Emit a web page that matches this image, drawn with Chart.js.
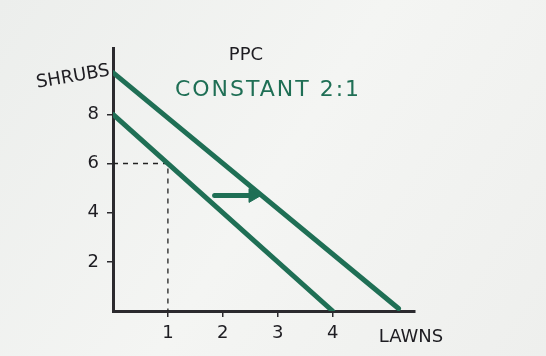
<!DOCTYPE html>
<html>
<head>
<meta charset="utf-8">
<script src="https://cdn.jsdelivr.net/npm/chart.js@4/dist/chart.umd.min.js"></script>
<style>
html,body{margin:0;padding:0;background:#f1f2f0;}
#wrap{width:546px;height:356px;position:relative;}
</style>
</head>
<body>
<div id="wrap"><canvas id="c" width="546" height="356"></canvas></div>
<script>
// Data
const lawnTicks = [1, 2, 3, 4];
const shrubTicks = [2, 4, 6, 8];
const ppcOriginalX = [0, 4];
const ppcOriginalY = [8, 0];
const ppcShiftedX = [0, 5.2];
const ppcShiftedY = [9.7, 0.1];
const guideX = [0, 1, 1];
const guideY = [6, 6, 0];
const arrowX = [1.85, 2.55];
const arrowY = [4.7, 4.7];
const titleText = "PPC";
const subtitleText = "CONSTANT 2:1";
const xAxisTitle = "LAWNS";
const yAxisTitle = "SHRUBS";

const GREEN = "#1f6f55";
const INK = "#2b2a2e";

function pts(xs, ys){ return xs.map((x,i)=>({x:x, y:ys[i]})); }

const bgPlugin = {
  id: "bg",
  beforeDraw(chart){
    const ctx = chart.ctx;
    const g = ctx.createLinearGradient(0,0,546,356);
    g.addColorStop(0,"#eceeec");
    g.addColorStop(0.5,"#f4f5f3");
    g.addColorStop(1,"#eeefed");
    ctx.save();
    ctx.fillStyle = g;
    ctx.fillRect(0,0,chart.width,chart.height);
    ctx.restore();
  }
};

const textPlugin = {
  id: "texts",
  afterDraw(chart){
    const ctx = chart.ctx;
    ctx.save();
    ctx.textBaseline = "middle";
    ctx.textAlign = "center";
    ctx.fillStyle = "#1e1d22";
    ctx.font = "18px 'DejaVu Sans'";
    ctx.fillText(titleText, 246, 55);
    ctx.fillStyle = GREEN;
    ctx.font = "22px 'DejaVu Sans'";
    ctx.letterSpacing = "2px";
    ctx.fillText(subtitleText, 268, 90);
    ctx.letterSpacing = "0px";
    ctx.fillStyle = "#1e1d22";
    ctx.font = "18px 'DejaVu Sans'";
    ctx.fillText(xAxisTitle, 411, 337);
    ctx.translate(73, 77);
    ctx.rotate(-0.17);
    ctx.fillText(yAxisTitle, 0, 0);
    ctx.restore();
  }
};

new Chart(document.getElementById("c"), {
  type: "scatter",
  data: {
    datasets: [
      { data: pts(ppcShiftedX, ppcShiftedY), showLine: true, borderColor: GREEN, borderWidth: 5, pointRadius: 0, borderCapStyle: "round" },
      { data: pts(ppcOriginalX, ppcOriginalY), showLine: true, borderColor: GREEN, borderWidth: 5, pointRadius: 0, borderCapStyle: "round" },
      { data: pts(guideX, guideY), showLine: true, borderColor: "#222", borderWidth: 1.3, borderDash: [5,5], pointRadius: 0 },
      { data: pts(arrowX, arrowY), showLine: true, borderColor: GREEN, borderWidth: 5, borderCapStyle: "round",
        pointRadius: [0, 8], pointStyle: "triangle", rotation: 90, pointBackgroundColor: GREEN, pointBorderColor: GREEN, pointBorderWidth: 1 }
    ]
  },
  options: {
    responsive: false,
    animation: false,
    events: [],
    layout: { padding: { left: 0, right: 131, top: 48, bottom: 0 } },
    plugins: { legend: { display: false }, tooltip: { enabled: false } },
    scales: {
      x: {
        type: "linear", min: 0, max: 5.5,
        afterBuildTicks(s){ s.ticks = lawnTicks.map(v=>({value:v})); },
        afterFit(s){ s.height = 45; },
        border: { color: INK, width: 3 },
        grid: { drawOnChartArea: false, color: INK, lineWidth: 1.5, tickLength: 6 },
        ticks: { color: "#1e1d22", font: { size: 18, family: "'DejaVu Sans'" }, padding: 6, callback: v => String(v) }
      },
      y: {
        type: "linear", min: 0, max: 10.7,
        afterBuildTicks(s){ s.ticks = shrubTicks.map(v=>({value:v})); },
        afterFit(s){ s.width = 113; },
        border: { color: INK, width: 3 },
        grid: { drawOnChartArea: false, color: INK, lineWidth: 1.5, tickLength: 6 },
        ticks: { color: "#1e1d22", font: { size: 18, family: "'DejaVu Sans'" }, padding: 8, callback: v => String(v) }
      }
    }
  },
  plugins: [bgPlugin, textPlugin]
});
</script>
</body>
</html>
